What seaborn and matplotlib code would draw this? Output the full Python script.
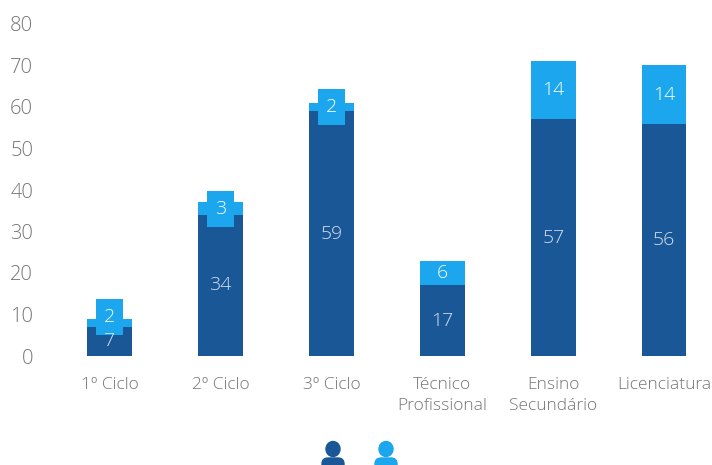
import numpy as np
import pandas as pd
import matplotlib
matplotlib.use("Agg")
import matplotlib.pyplot as plt
import seaborn as sns
from matplotlib.patches import Ellipse, FancyBboxPatch
from matplotlib.transforms import IdentityTransform

categories = ["1º Ciclo", "2º Ciclo", "3º Ciclo", "Técnico\nProfissional", "Ensino\nSecundário", "Licenciatura"]
homens = [7, 34, 59, 17, 57, 56]
mulheres = [2, 3, 2, 6, 14, 14]
yticks = [0, 10, 20, 30, 40, 50, 60, 70, 80]

DARK = "#1a5797"
LIGHT = "#1ba6ee"
GREY = "#757575"

sns.set_theme(style="white")
plt.rcParams["font.family"] = ["Open Sans", "DejaVu Sans"]
plt.rcParams["font.weight"] = "light"

df = pd.DataFrame({"cat": categories, "homens": homens, "mulheres": mulheres})
df["total"] = df["homens"] + df["mulheres"]

fig = plt.figure(figsize=(7.12, 4.65), dpi=100)
ax = fig.add_axes([54 / 712, (465 - 356) / 465, (712 - 54) / 712, 332 / 465])

# stacked look: totals behind, men on top
sns.barplot(data=df, x="cat", y="total", color=LIGHT, width=0.4, saturation=1, linewidth=0, ax=ax, zorder=2)
sns.barplot(data=df, x="cat", y="homens", color=DARK, width=0.4, saturation=1, linewidth=0, ax=ax, zorder=3)

for i, row in df.iterrows():
    ax.text(i, row["homens"] / 2, str(row["homens"]), ha="center", va="center",
            color="#d3dfee", fontsize=14, zorder=6)
    mid = row["homens"] + row["mulheres"] / 2
    if row["mulheres"] <= 3:
        # small segments get a label box that sticks out of the bar
        if i == 0:
            mid += 1.3
        ax.bar(i, 8.7, bottom=mid - 4.35, width=0.25, color=LIGHT, linewidth=0, zorder=4)
    ax.text(i, mid, str(row["mulheres"]), ha="center", va="center",
            color="white", fontsize=14, zorder=6)

ax.set_xlim(-0.5, 5.43)
ax.set_ylim(0, 80)
ax.set_yticks(yticks)
ax.set_xlabel("")
ax.set_ylabel("")
ax.tick_params(axis="y", length=0, pad=15, labelsize=14.5, labelcolor=GREY)
ax.tick_params(axis="x", length=0, pad=15, labelsize=12.5, labelcolor=GREY)
for lab in ax.get_xticklabels():
    lab.set_linespacing(1.45)
sns.despine(ax=ax, left=True, bottom=True)

# legend icons, cut by the bottom edge like in the reference
for px, col in [(333, DARK), (386, LIGHT)]:
    fig.add_artist(Ellipse((px, 465 - 449), 14, 15, color=col, transform=IdentityTransform()))
    fig.add_artist(FancyBboxPatch((px - 11, -8), 22, 15, boxstyle="round,pad=0,rounding_size=6",
                                  mutation_aspect=1, color=col, transform=IdentityTransform()))

fig.savefig("out.png", dpi=100)
